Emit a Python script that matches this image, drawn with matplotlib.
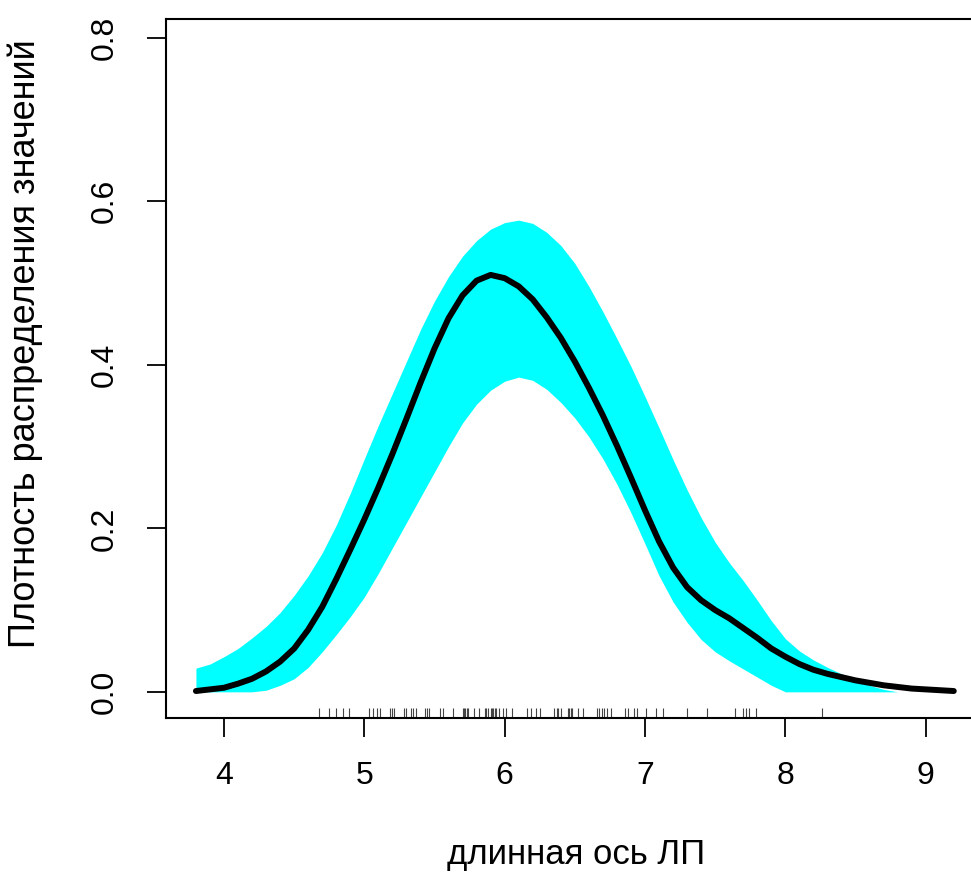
import numpy as np
import matplotlib
matplotlib.use('Agg')
import matplotlib.pyplot as plt

plt.rcParams['font.family'] = ['Liberation Sans', 'DejaVu Sans']

# плотность (оценка) и доверительная полоса
dens_x = [3.8, 3.9, 4.0, 4.1, 4.2, 4.3, 4.4, 4.5, 4.6, 4.7, 4.8, 4.9,
          5.0, 5.1, 5.2, 5.3, 5.4, 5.5, 5.6, 5.7, 5.8, 5.9,
          6.0, 6.1, 6.2, 6.3, 6.4, 6.5, 6.6, 6.7, 6.8, 6.9,
          7.0, 7.1, 7.2, 7.3, 7.4, 7.5, 7.6, 7.7, 7.8, 7.9,
          8.0, 8.1, 8.2, 8.3, 8.4, 8.5, 8.6, 8.7, 8.8, 8.9,
          9.0, 9.1, 9.2]
dens_y = [0.001, 0.003, 0.005, 0.010, 0.016, 0.025, 0.037, 0.053, 0.076, 0.104, 0.138, 0.174,
          0.211, 0.250, 0.291, 0.334, 0.378, 0.420, 0.457, 0.485, 0.503, 0.510,
          0.506, 0.496, 0.480, 0.458, 0.433, 0.404, 0.372, 0.338, 0.301, 0.262,
          0.222, 0.184, 0.152, 0.128, 0.112, 0.100, 0.090, 0.078, 0.066, 0.053,
          0.043, 0.034, 0.027, 0.022, 0.018, 0.014, 0.011, 0.008, 0.006, 0.004,
          0.003, 0.002, 0.001]

band_x = dens_x[:51]
band_hi = [0.029, 0.034, 0.043, 0.053, 0.066, 0.080, 0.097, 0.118, 0.142, 0.170, 0.204, 0.243,
           0.285, 0.326, 0.365, 0.404, 0.443, 0.478, 0.508, 0.533, 0.552, 0.566,
           0.574, 0.577, 0.573, 0.562, 0.546, 0.524, 0.496, 0.465, 0.432, 0.398,
           0.361, 0.323, 0.284, 0.247, 0.213, 0.183, 0.158, 0.136, 0.112, 0.087,
           0.065, 0.050, 0.039, 0.030, 0.022, 0.015, 0.008, 0.003, 0.0]
band_lo = [0.0, 0.0, 0.0, 0.0, 0.0, 0.002, 0.008, 0.016, 0.030, 0.049, 0.070, 0.092,
           0.116, 0.145, 0.176, 0.207, 0.238, 0.269, 0.300, 0.329, 0.352, 0.369,
           0.380, 0.385, 0.381, 0.370, 0.354, 0.335, 0.312, 0.285, 0.254, 0.219,
           0.181, 0.142, 0.110, 0.085, 0.064, 0.049, 0.038, 0.028, 0.018, 0.008,
           0.0, 0.0, 0.0, 0.0, 0.0, 0.0, 0.0, 0.0, 0.0]

# наблюдения (rug)
obs = [4.68, 4.75, 4.80, 4.85, 4.89, 5.03, 5.06, 5.09, 5.11, 5.18, 5.20, 5.21,
       5.28, 5.30, 5.33, 5.35, 5.37, 5.43, 5.45, 5.46, 5.54, 5.56, 5.63,
       5.70, 5.71, 5.72, 5.73, 5.74, 5.78, 5.82, 5.86, 5.87, 5.88, 5.90,
       5.91, 5.92, 5.93, 5.94, 5.96, 5.99, 6.01, 6.05, 6.16, 6.19, 6.22,
       6.25, 6.35, 6.37, 6.38, 6.40, 6.45, 6.46, 6.47, 6.48, 6.52, 6.56,
       6.66, 6.67, 6.69, 6.71, 6.73, 6.76, 6.86, 6.88, 6.92, 6.94, 7.01,
       7.08, 7.13, 7.30, 7.44, 7.64, 7.70, 7.72, 7.74, 7.79, 8.26]

xticks = [4, 5, 6, 7, 8, 9]
yticks = [0.0, 0.2, 0.4, 0.6, 0.8]

fig = plt.figure(figsize=(9.71, 8.77), dpi=100)
ax = fig.add_axes([0.171, 0.1813, 0.8445, 0.797])

ax.fill_between(band_x, band_lo, band_hi, color='#00ffff', lw=0)
ax.plot(dens_x, dens_y, color='black', lw=4.3, solid_capstyle='round',
        solid_joinstyle='round')
ax.vlines(obs, 0.0, 0.015, transform=ax.get_xaxis_transform(),
          color='#444444', lw=0.8)

ax.set_xlim(3.587, 9.43)
ax.set_ylim(-0.032, 0.823)
ax.set_xticks(xticks)
ax.set_xticklabels([str(v) for v in xticks])
ax.set_yticks(yticks)
ax.set_yticklabels(['%.1f' % v for v in yticks], rotation=90, va='center')

for s in ax.spines.values():
    s.set_linewidth(1.5)
ax.tick_params(length=14, width=1.3, labelsize=23)
ax.tick_params(axis='x', pad=17)
ax.tick_params(axis='y', pad=19)

fig.text(576 / 971, 13 / 877, 'длинная ось ЛП', fontsize=25,
         ha='center', va='baseline')
fig.text(25 / 971, 1 - 344 / 877, 'Плотность распределения значений',
         fontsize=26, rotation=90, ha='center', va='center')

fig.savefig('out.png', dpi=100)
